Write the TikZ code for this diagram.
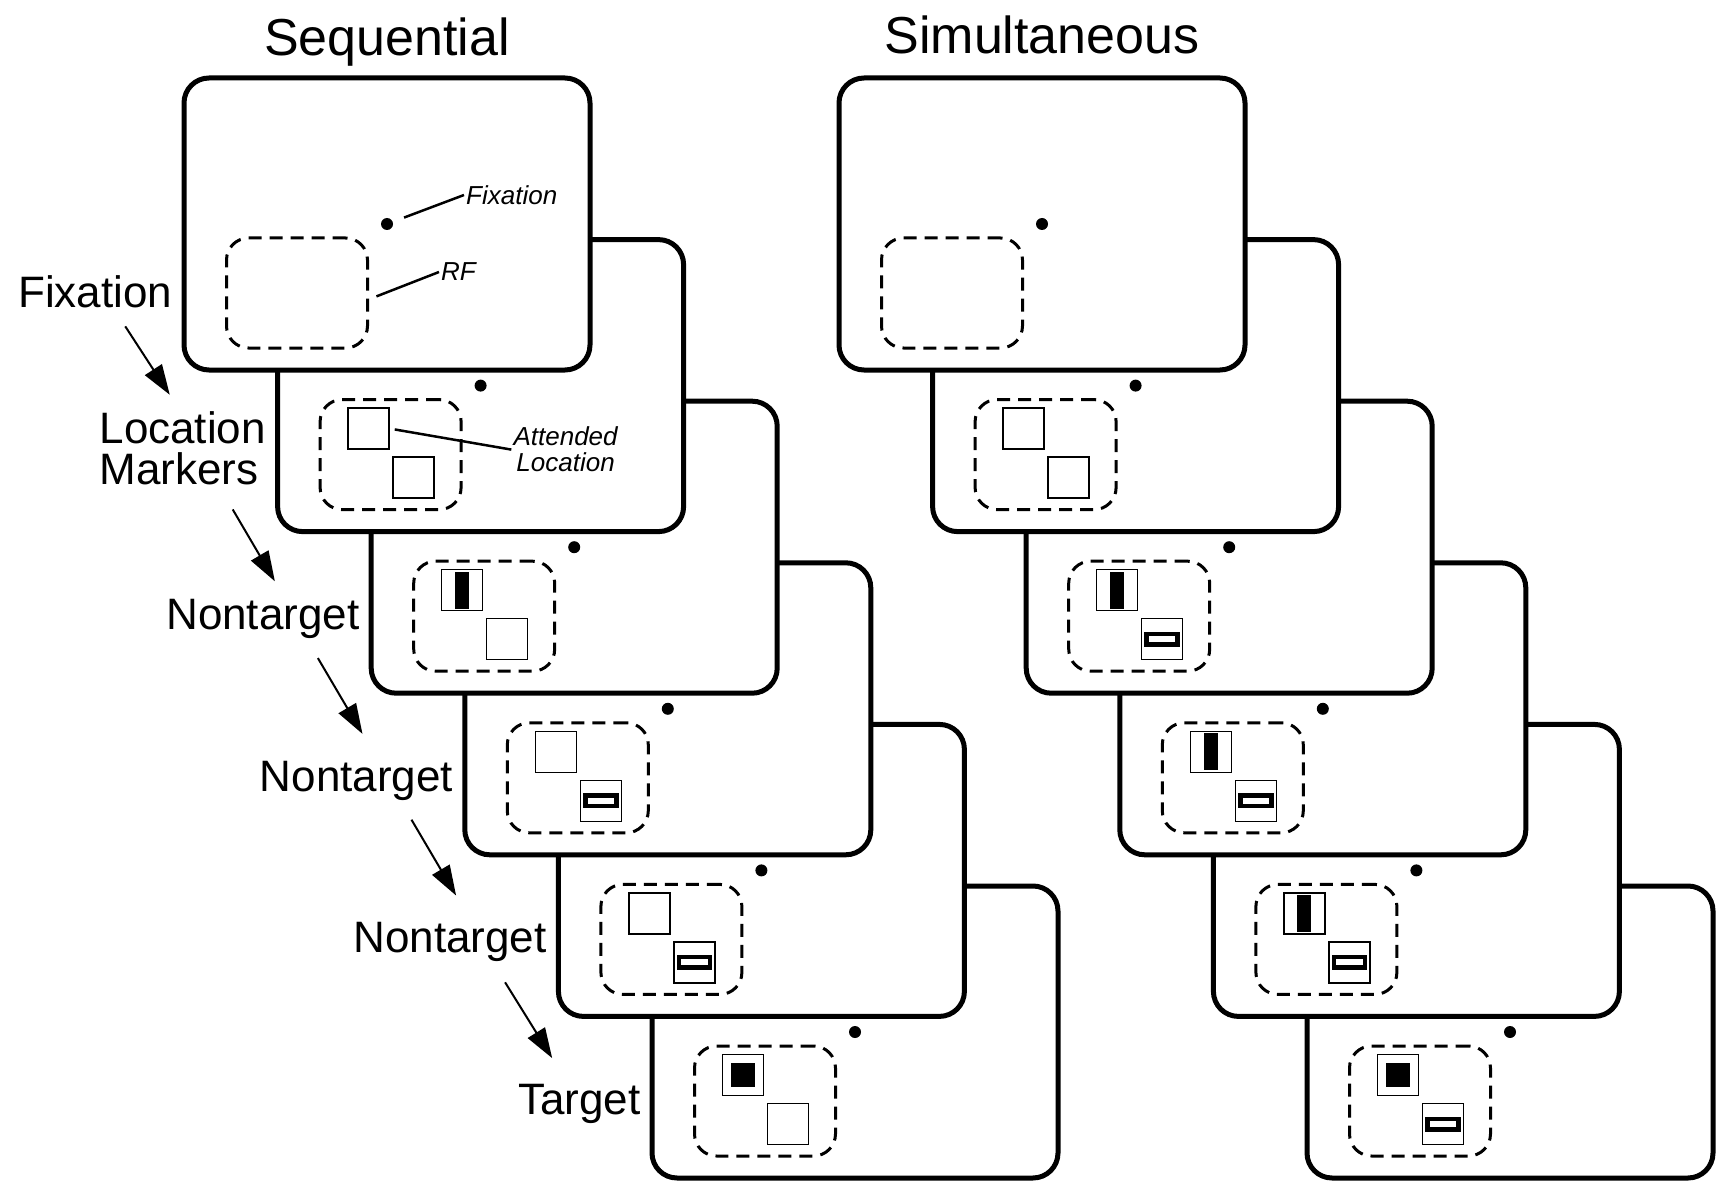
\documentclass[tikz,border=0pt]{standalone}
\usepackage{fontspec}
\setmainfont{Liberation Sans}
\usetikzlibrary{positioning,arrows.meta}

\begin{document}
\begin{tikzpicture}[x=1pt,y=1pt,on grid,node distance={161.6pt and 93.6pt},
  screen/.style = {draw, line width=5pt, rounded corners=25pt, fill=white, inner sep=0pt, minimum width=406pt, minimum height=292pt},
  rf/.style = {draw, line width=3pt, dash pattern=on 13pt off 8pt, rounded corners=22pt, inner sep=0pt, minimum width=141pt, minimum height=110pt},
  fixdot/.style = {circle, fill, inner sep=0pt, minimum size=12pt},
  loc/.style = {draw, line width=1.4pt, inner sep=0pt, minimum size=41pt},
  vbar/.style = {fill, inner sep=0pt, minimum width=14pt, minimum height=37pt},
  hbar/.style = {draw, line width=4.5pt, inner sep=0pt, minimum width=31pt, minimum height=10.5pt},
  tgt/.style = {fill, inner sep=0pt, minimum size=24pt},
  lbl/.style = {inner sep=2pt, align=left, font=\fontsize{44}{41}\selectfont},
  title/.style = {inner sep=0pt, font=\fontsize{52}{56}\selectfont},
  note/.style = {inner sep=2pt, align=center, font=\fontsize{26}{26}\selectfont\itshape},
  >={Triangle[length=30pt,width=20pt]}]
\useasboundingbox (0,0) rectangle (1716,-1182);

% screens, last one first so that earlier ones lie on top
\node[screen] (s6) at (855,-1032) {};
\node[screen] (s5) [above left=of s6] {};
\node[screen] (s4) [above left=of s5] {};
\node[screen] (s3) [above left=of s4] {};
\node[screen] (s2) [above left=of s3] {};
\node[screen] (s1) [above left=of s2] {};
\node[screen] (r6) at (1510,-1032) {};
\node[screen] (r5) [above left=of r6] {};
\node[screen] (r4) [above left=of r5] {};
\node[screen] (r3) [above left=of r4] {};
\node[screen] (r2) [above left=of r3] {};
\node[screen] (r1) [above left=of r2] {};

\node[title] (seq) [above=168pt of s1, anchor=base] {Sequential};
\node[title] (sim) [above=170pt of r1, anchor=base] {Simultaneous};

% sequential
\node[rf] (rf1) [below left=69pt and 90pt of s1] {};
\node[fixdot] (d1) at (s1) {};
\node[note] (fixnote) [above right=29pt and 77pt of d1, anchor=west] {Fixation};
\node[note] (rfnote) [below right=48pt and 52pt of d1, anchor=west] {RF};
\draw[line width=2.5pt, shorten <=12pt] (d1) -- (fixnote.west);
\draw[line width=2.5pt, shorten <=8pt] (rf1.-5) -- (rfnote.west);

\node[rf] (rf2) [below left=69pt and 90pt of s2] {};
\node[fixdot] (d2) at (s2) {};
\node[loc] (a2) [below left=43pt and 112pt of s2] {};
\node[loc] (b2) [below left=92pt and 67pt of s2] {};
\node[note] (attnote) [below right=21pt and 197pt of a2] {Attended\\Location};
\draw[line width=2.5pt, shorten <=5pt] (a2.east) -- (attnote.west);

\node[rf] (rf3) [below left=69pt and 90pt of s3] {};
\node[fixdot] (d3) at (s3) {};
\node[loc] (a3) [below left=43pt and 112pt of s3] {};
\node[vbar] (va3) at (a3) {};
\node[loc] (b3) [below left=92pt and 67pt of s3] {};

\node[rf] (rf4) [below left=69pt and 90pt of s4] {};
\node[fixdot] (d4) at (s4) {};
\node[loc] (a4) [below left=43pt and 112pt of s4] {};
\node[loc] (b4) [below left=92pt and 67pt of s4] {};
\node[hbar] (hb4) at (b4) {};

\node[rf] (rf5) [below left=69pt and 90pt of s5] {};
\node[fixdot] (d5) at (s5) {};
\node[loc] (a5) [below left=43pt and 112pt of s5] {};
\node[loc] (b5) [below left=92pt and 67pt of s5] {};
\node[hbar] (hb5) at (b5) {};

\node[rf] (rf6) [below left=69pt and 90pt of s6] {};
\node[fixdot] (d6) at (s6) {};
\node[loc] (a6) [below left=43pt and 112pt of s6] {};
\node[tgt] (ta6) at (a6) {};
\node[loc] (b6) [below left=92pt and 67pt of s6] {};

% simultaneous
\node[rf] (rrf1) [below left=69pt and 90pt of r1] {};
\node[fixdot] (rd1) at (r1) {};

\node[rf] (rrf2) [below left=69pt and 90pt of r2] {};
\node[fixdot] (rd2) at (r2) {};
\node[loc] (ra2) [below left=43pt and 112pt of r2] {};
\node[loc] (rb2) [below left=92pt and 67pt of r2] {};

\node[rf] (rrf3) [below left=69pt and 90pt of r3] {};
\node[fixdot] (rd3) at (r3) {};
\node[loc] (ra3) [below left=43pt and 112pt of r3] {};
\node[vbar] (rva3) at (ra3) {};
\node[loc] (rb3) [below left=92pt and 67pt of r3] {};
\node[hbar] (rhb3) at (rb3) {};

\node[rf] (rrf4) [below left=69pt and 90pt of r4] {};
\node[fixdot] (rd4) at (r4) {};
\node[loc] (ra4) [below left=43pt and 112pt of r4] {};
\node[vbar] (rva4) at (ra4) {};
\node[loc] (rb4) [below left=92pt and 67pt of r4] {};
\node[hbar] (rhb4) at (rb4) {};

\node[rf] (rrf5) [below left=69pt and 90pt of r5] {};
\node[fixdot] (rd5) at (r5) {};
\node[loc] (ra5) [below left=43pt and 112pt of r5] {};
\node[vbar] (rva5) at (ra5) {};
\node[loc] (rb5) [below left=92pt and 67pt of r5] {};
\node[hbar] (rhb5) at (rb5) {};

\node[rf] (rrf6) [below left=69pt and 90pt of r6] {};
\node[fixdot] (rd6) at (r6) {};
\node[loc] (ra6) [below left=43pt and 112pt of r6] {};
\node[tgt] (rta6) at (ra6) {};
\node[loc] (rb6) [below left=92pt and 67pt of r6] {};
\node[hbar] (rhb6) at (rb6) {};

% trial labels
\node[lbl] (fix) [left=7pt of s1.west, yshift=-68pt, anchor=east] {Fixation};
\node[lbl] (mark) [left=7pt of s2.west, yshift=-63pt, anchor=east] {Location\\Markers};
\node[lbl] (n1) [left=7pt of s3.west, yshift=-72pt, anchor=east] {Nontarget};
\node[lbl] (n2) [left=7pt of s4.west, yshift=-72pt, anchor=east] {Nontarget};
\node[lbl] (n3) [left=7pt of s5.west, yshift=-72pt, anchor=east] {Nontarget};
\node[lbl] (tg) [left=7pt of s6.west, yshift=-72pt, anchor=east] {Target};
\draw[->, line width=2pt] ([shift={(30pt,-16pt)}]fix.south) -- ([shift={(-13pt,15pt)}]mark.north);
\draw[->, line width=2pt] ([shift={(50pt,-22pt)}]mark.south) -- ([shift={(12pt,16pt)}]n1.north);
\draw[->, line width=2pt] ([shift={(55pt,-17pt)}]n1.south) -- ([shift={(6pt,25pt)}]n2.north);
\draw[->, line width=2pt] ([shift={(55pt,-17pt)}]n2.south) -- ([shift={(6pt,25pt)}]n3.north);
\draw[->, line width=2pt] ([shift={(55pt,-18pt)}]n3.south) -- ([shift={(-27pt,24pt)}]tg.north);
\end{tikzpicture}
\end{document}
